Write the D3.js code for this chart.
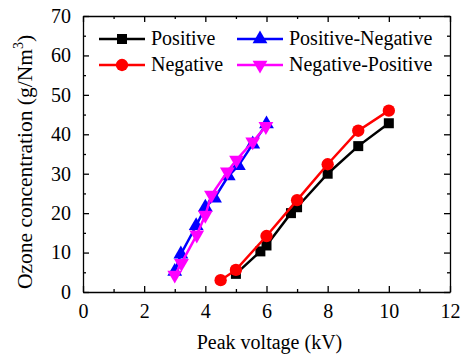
<!DOCTYPE html>
<html><head><meta charset="utf-8">
<script src="https://cdn.jsdelivr.net/npm/d3@7"></script>
<style>body{margin:0;background:#fff}svg text{font-family:"Liberation Serif","Times New Roman",serif}</style>
</head><body><svg id="c" width="465" height="359" font-family="Liberation Serif, serif"></svg>
<script>
const xTicks = [0,2,4,6,8,10,12];
const yTicks = [0,10,20,30,40,50,60,70];
const positiveX = [5,5.8,6,6.8,7,8,9,10];
const positiveY = [4.6,10.3,11.8,20,21.5,30,37,42.8];
const negativeX = [4.5,5,6,7,8,9,10];
const negativeY = [3,5.6,14.2,23.3,32.4,40.9,46];
const posNegX = [3,3.2,3.7,4,4.3,4.75,5.08,5.55,6];
const posNegY = [5.2,9.6,16.8,21.5,23.8,29.4,32,37.5,42.6];
const negPosX = [3,3.22,3.72,4,4.2,4.72,5.02,5.55,5.98];
const negPosY = [4.3,7.3,14.5,19.5,24.6,30.5,33.5,38.1,42];
const seriesNames = ["Positive","Negative","Positive-Negative","Negative-Positive"];

const FONT = "'Liberation Serif','Times New Roman',serif";
const series = [
  {name:seriesNames[0], xs:positiveX, ys:positiveY, color:"#000000", sym:d3.symbolSquare, size:100, rot:0},
  {name:seriesNames[1], xs:negativeX, ys:negativeY, color:"#ff0000", sym:d3.symbolCircle, size:120, rot:0},
  {name:seriesNames[2], xs:posNegX, ys:posNegY, color:"#0000ff", sym:d3.symbolTriangle, size:95, rot:0},
  {name:seriesNames[3], xs:negPosX, ys:negPosY, color:"#ff00ff", sym:d3.symbolTriangle, size:95, rot:180}
];

const svg = d3.select("#c");
const L=83,R=450,T=16,B=292;
const x = d3.scaleLinear().domain([0,12]).range([L,R]);
const y = d3.scaleLinear().domain([0,70]).range([B,T]);

const g = svg.append("g");
const minorX = d3.range(0,12.01,1);
const minorY = d3.range(0,70.01,5);
function styleAxis(sel){
  sel.attr("font-family",FONT);
  sel.select(".domain").attr("stroke","#000").attr("stroke-width",1.3);
  sel.selectAll(".tick line").attr("stroke","#000").attr("stroke-width",1.3);
  sel.selectAll("text").attr("font-size","20px").attr("fill","#000").attr("font-family",FONT);
}
g.append("g").attr("transform",`translate(0,${B})`)
  .call(d3.axisBottom(x).tickValues(xTicks).tickSizeInner(-6).tickSizeOuter(0).tickPadding(12).tickFormat(d3.format("d")))
  .call(styleAxis);
g.append("g").attr("transform",`translate(0,${B})`)
  .call(d3.axisBottom(x).tickValues(minorX.filter(v=>v%2)).tickSize(-3).tickFormat(""))
  .call(styleAxis).select(".domain").remove();
g.append("g").attr("transform",`translate(0,${T})`)
  .call(d3.axisTop(x).tickValues(xTicks).tickSizeInner(-6).tickSizeOuter(0).tickFormat(""))
  .call(styleAxis);
g.append("g").attr("transform",`translate(0,${T})`)
  .call(d3.axisTop(x).tickValues(minorX.filter(v=>v%2)).tickSize(-3).tickFormat(""))
  .call(styleAxis).select(".domain").remove();
g.append("g").attr("transform",`translate(${L},0)`)
  .call(d3.axisLeft(y).tickValues(yTicks).tickSizeInner(-6).tickSizeOuter(0).tickPadding(12).tickFormat(d3.format("d")))
  .call(styleAxis);
g.append("g").attr("transform",`translate(${L},0)`)
  .call(d3.axisLeft(y).tickValues(minorY.filter(v=>v%10)).tickSize(-3).tickFormat(""))
  .call(styleAxis).select(".domain").remove();
g.append("g").attr("transform",`translate(${R},0)`)
  .call(d3.axisRight(y).tickValues(yTicks).tickSizeInner(-6).tickSizeOuter(0).tickFormat(""))
  .call(styleAxis);
g.append("g").attr("transform",`translate(${R},0)`)
  .call(d3.axisRight(y).tickValues(minorY.filter(v=>v%10)).tickSize(-3).tickFormat(""))
  .call(styleAxis).select(".domain").remove();

svg.append("text").attr("x",(L+R)/2+3).attr("y",349).attr("text-anchor","middle")
  .attr("font-family",FONT).attr("font-size","20px").text("Peak voltage (kV)");
const yl = svg.append("text").attr("transform",`translate(32,162) rotate(-90)`)
  .attr("text-anchor","middle").attr("font-family",FONT).attr("font-size","21.5px");
yl.append("tspan").text("Ozone concentration (g/Nm");
yl.append("tspan").attr("dy",-9).attr("font-size","14px").text("3");
yl.append("tspan").attr("dy",9).text(")");

const line = d3.line();
series.forEach(s=>{
  const pts = s.xs.map((v,i)=>[x(v),y(s.ys[i])]);
  svg.append("path").attr("d",line(pts)).attr("fill","none").attr("stroke",s.color).attr("stroke-width",2.5);
  svg.selectAll(null).data(pts).enter().append("path")
    .attr("d",d3.symbol().type(s.sym).size(s.size))
    .attr("transform",d=>`translate(${d[0]},${d[1]}) rotate(${s.rot})`)
    .attr("fill",s.color);
});

const legPos = [[99,39,151],[99,65,151],[237,39,289],[237,65,289]];
series.forEach((s,i)=>{
  const [lx,ly,tx] = legPos[i];
  svg.append("line").attr("x1",lx).attr("x2",lx+46).attr("y1",ly).attr("y2",ly).attr("stroke",s.color).attr("stroke-width",2.5);
  svg.append("path").attr("d",d3.symbol().type(s.sym).size(s.size)).attr("fill",s.color)
    .attr("transform",`translate(${lx+23},${ly}) rotate(${s.rot})`);
  svg.append("text").attr("x",tx).attr("y",ly+6).attr("font-family",FONT).attr("font-size","20px").text(s.name);
});
</script></body></html>
